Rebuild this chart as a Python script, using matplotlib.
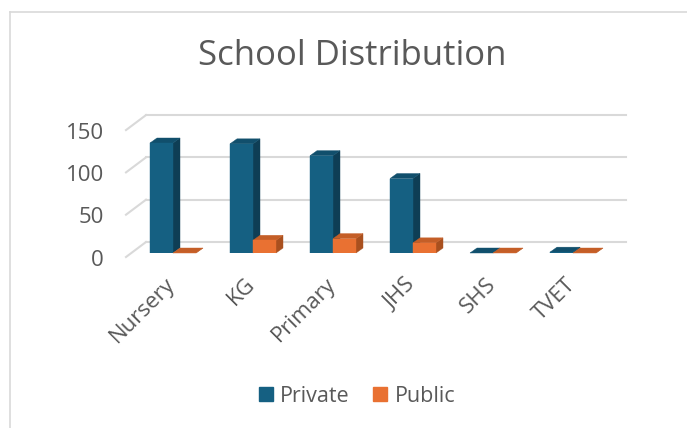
import matplotlib
matplotlib.use('Agg')
import matplotlib.pyplot as plt
from matplotlib.patches import Polygon, Rectangle
from matplotlib.lines import Line2D

plt.rcParams['font.family'] = ['Open Sans', 'DejaVu Sans']

# Données
categories = ["Nursery", "KG", "Primary", "JHS", "SHS", "TVET"]
private = [130, 129, 115, 88, 0, 1]
public = [0, 15, 17, 12, 0, 0]
y_ticks = [0, 50, 100, 150]

# Couleurs (face avant, côté, dessus)
blue = ("#156082", "#0e3e55", "#114f6c")
orange = ("#e97132", "#a9501f", "#c45e27")
grid_col = "#d9d9d9"
text_col = "#595959"

W, H = 687, 428
fig = plt.figure(figsize=(W / 100, H / 100), dpi=100)

# Axe principal : plan avant des barres, 80 px par catégorie
px_x = 80.0
px_y = 110.0 / 130.0
left_px, base_px = 133, 253
ax = fig.add_axes([left_px / W, (H - base_px) / H, 480 / W, 150 * px_y / H])
ax.set_xlim(-0.5, len(categories) - 0.5)
ax.set_ylim(0, 150)
ax.axis('off')

def dx(p):
    return p / px_x

def dy(p):
    return p / px_y

# Mur du fond et mur latéral
back_x, back_y = dx(13), dy(11)
front_x, front_y = -dx(7), -dy(4)
x0 = -0.5
x1 = len(categories) - 0.5
for v in y_ticks:
    ax.plot([x0 + back_x, x1 + back_x], [v + back_y, v + back_y],
            color=grid_col, lw=1.5, clip_on=False, zorder=1)
    ax.plot([x0 + front_x, x0 + back_x], [v + front_y, v + back_y],
            color=grid_col, lw=1.5, clip_on=False, zorder=1)
    ax.text(x0 - dx(29), v + front_y - dy(3), str(v), ha='right', va='center',
            fontsize=16, color=text_col)

# Barres 3D : face avant + côté + dessus
bw = 23 / px_x
depth_x, depth_y = dx(7), dy(5)

def bars_3d(offset, values, cols, z):
    xs = [i + offset for i in range(len(values))]
    ax.bar(xs, values, width=bw, color=cols[0], zorder=z + 0.2,
           edgecolor=cols[0], linewidth=0.3)
    for x, v in zip(xs, values):
        l, r = x - bw / 2, x + bw / 2
        side = Polygon([(r, 0), (r, v), (r + depth_x, v + depth_y), (r + depth_x, depth_y)],
                       closed=True, facecolor=cols[1], edgecolor=cols[1], lw=0.3,
                       zorder=z, clip_on=False)
        top = Polygon([(l, v), (r, v), (r + depth_x, v + depth_y), (l + depth_x, v + depth_y)],
                      closed=True, facecolor=cols[2], edgecolor=cols[2], lw=0.3,
                      zorder=z + 0.1, clip_on=False)
        ax.add_patch(side)
        ax.add_patch(top)

bars_3d(-bw / 2, private, blue, 2)
bars_3d(bw / 2, public, orange, 3)

# Étiquettes des catégories
for i, name in enumerate(categories):
    ax.text(i - dx(8), -dy(21), name, rotation=45, rotation_mode='anchor',
            ha='right', va='top', fontsize=16, color=text_col)

# Titre
fig.text(352 / W, 1 - 56 / H, "School Distribution", ha='center', va='center',
         fontsize=25, color=text_col)

# Légende
handles = [Rectangle((0, 0), 1, 1, color=blue[0]), Rectangle((0, 0), 1, 1, color=orange[0])]
fig.legend(handles, ["Private", "Public"], loc='center', bbox_to_anchor=(357 / W, 1 - 396 / H),
           ncol=2, frameon=False, fontsize=15.5, handlelength=0.65, handleheight=0.65,
           handletextpad=0.35, columnspacing=1.1, labelcolor=text_col)

# Bordure de la zone du graphique
fig.add_artist(Line2D([9.5 / W, 1], [1 - 11.5 / H, 1 - 11.5 / H], color=grid_col, lw=1.2))
fig.add_artist(Line2D([9.5 / W, 9.5 / W], [1 - 11.5 / H, 0], color=grid_col, lw=1.2))

fig.savefig("out.png", dpi=100)
